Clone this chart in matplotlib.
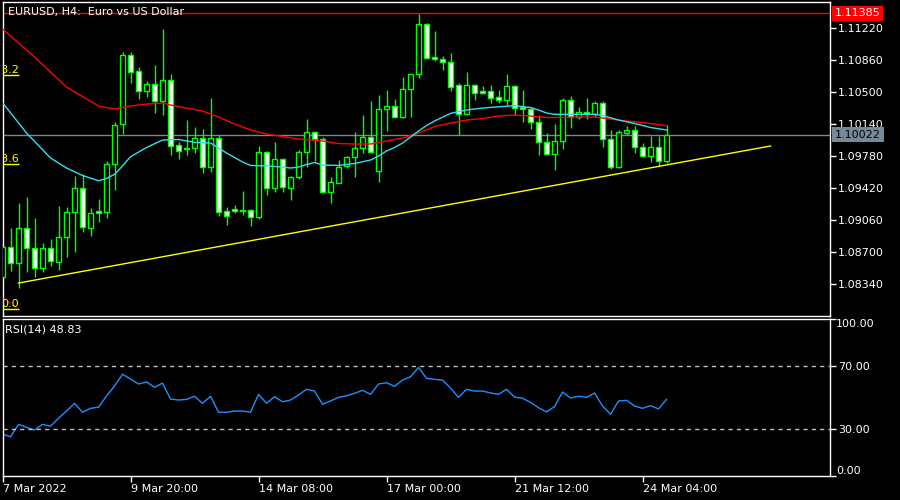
import numpy as np
import matplotlib.pyplot as plt
from matplotlib.transforms import blended_transform_factory

# EURUSD H4 candles, bar index 0..83
opens = [1.08419, 1.08756, 1.08576, 1.08970, 1.08745, 1.08520, 1.08745, 1.08588, 1.08869, 1.09150,
         1.09420, 1.08970, 1.09161, 1.09150, 1.09690, 1.10140, 1.10916, 1.10736, 1.10511, 1.10590,
         1.10399, 1.10635, 1.09904, 1.09859, 1.09870, 1.09983, 1.09656, 1.09983, 1.09161, 1.09184,
         1.09161, 1.09173, 1.09094, 1.09825, 1.09420, 1.09746, 1.09420, 1.09544, 1.09825, 1.10050,
         1.09971, 1.09375, 1.09476, 1.09668, 1.09769, 1.09870, 1.09994, 1.09611, 1.10309, 1.10343,
         1.10219, 1.10534, 1.10703, 1.11265, 1.10894, 1.10871, 1.10838, 1.10579, 1.10253, 1.10579,
         1.10511, 1.10511, 1.10444, 1.10410, 1.10568, 1.10331, 1.10309, 1.10163, 1.09938, 1.09803,
         1.09949, 1.10410, 1.10219, 1.10275, 1.10253, 1.10376, 1.09971, 1.09656, 1.10039, 1.10073,
         1.09881, 1.09780, 1.09881, 1.09724]
highs = [1.08779, 1.08970, 1.09251, 1.09319, 1.09083, 1.08801, 1.08846, 1.09218, 1.09206, 1.09555,
         1.09578, 1.09195, 1.09296, 1.09724, 1.10163, 1.10950, 1.10950, 1.10781, 1.10624, 1.10804,
         1.11209, 1.10703, 1.09938, 1.10185, 1.10106, 1.10084, 1.10433, 1.10016, 1.09206, 1.09229,
         1.09386, 1.09184, 1.09893, 1.09836, 1.09938, 1.09758, 1.09555, 1.09848, 1.10196, 1.10061,
         1.09994, 1.09544, 1.09735, 1.09780, 1.10050, 1.10241, 1.10399, 1.10466, 1.10523, 1.10421,
         1.10669, 1.10703, 1.11378, 1.11276, 1.11186, 1.10905, 1.10939, 1.10601, 1.10725, 1.10590,
         1.10568, 1.10579, 1.10523, 1.10703, 1.10579, 1.10523, 1.10331, 1.10241, 1.10039, 1.10140,
         1.10433, 1.10455, 1.10331, 1.10433, 1.10399, 1.10399, 1.10073, 1.10073, 1.10118, 1.10118,
         1.09926, 1.10005, 1.10005, 1.10129]
lows = [1.08396, 1.08486, 1.08295, 1.08475, 1.08419, 1.08475, 1.08543, 1.08498, 1.08644, 1.08700,
        1.08925, 1.08880, 1.09038, 1.09083, 1.09398, 1.10028, 1.10601, 1.10421, 1.10444, 1.10264,
        1.10241, 1.09791, 1.09746, 1.09791, 1.09814, 1.09589, 1.09600, 1.09105, 1.09004, 1.09139,
        1.09116, 1.08993, 1.09071, 1.09341, 1.09375, 1.09375, 1.09285, 1.09521, 1.09656, 1.09724,
        1.09364, 1.09251, 1.09476, 1.09645, 1.09544, 1.09814, 1.09814, 1.09488, 1.10061, 1.10208,
        1.10208, 1.10219, 1.10658, 1.10871, 1.10849, 1.10748, 1.10511, 1.10016, 1.10241, 1.10410,
        1.10478, 1.10376, 1.10376, 1.10354, 1.10241, 1.10163, 1.10084, 1.09791, 1.09791, 1.09623,
        1.09859, 1.10095, 1.10196, 1.10196, 1.10219, 1.09881, 1.09634, 1.09645, 1.10016, 1.09814,
        1.09769, 1.09713, 1.09668, 1.09701]
closes = [1.08756, 1.08576, 1.08970, 1.08745, 1.08520, 1.08745, 1.08599, 1.08869, 1.09150, 1.09420,
          1.08981, 1.09139, 1.09139, 1.09690, 1.10129, 1.10916, 1.10725, 1.10511, 1.10590, 1.10399,
          1.10635, 1.09893, 1.09836, 1.09870, 1.09983, 1.09656, 1.09983, 1.09150, 1.09105, 1.09161,
          1.09173, 1.09094, 1.09825, 1.09420, 1.09746, 1.09431, 1.09544, 1.09825, 1.10050, 1.09971,
          1.09375, 1.09488, 1.09656, 1.09769, 1.09870, 1.09994, 1.09825, 1.10309, 1.10343, 1.10219,
          1.10534, 1.10703, 1.11265, 1.10883, 1.10871, 1.10838, 1.10556, 1.10253, 1.10579, 1.10489,
          1.10489, 1.10433, 1.10410, 1.10568, 1.10320, 1.10309, 1.10163, 1.09938, 1.09803, 1.09949,
          1.10410, 1.10219, 1.10275, 1.10253, 1.10376, 1.09971, 1.09656, 1.10050, 1.10073, 1.09881,
          1.09780, 1.09881, 1.09724, 1.10022]

# moving averages (read at some bars)
red_idx = [0, 4, 8, 12, 14, 16, 18, 20, 21, 23, 25, 27, 29, 31, 33, 35, 37, 40, 42, 44,
           46, 48, 50, 52, 54, 56, 58, 60, 62, 64, 66, 68, 70, 72, 74, 76, 78, 80, 83]
red_ma = [1.11209, 1.10894, 1.10556, 1.10343, 1.10309, 1.10343, 1.10365, 1.10376, 1.10354, 1.10320,
          1.10286, 1.10219, 1.10140, 1.10073, 1.10028, 1.10000, 1.09971, 1.09949, 1.09921, 1.09915,
          1.09915, 1.09949, 1.09983, 1.10039, 1.10112, 1.10151, 1.10185, 1.10202, 1.10230, 1.10241,
          1.10230, 1.10213, 1.10215, 1.10219, 1.10219, 1.10196, 1.10174, 1.10157, 1.10121]
cyan_idx = [0, 3, 6, 8, 10, 12, 13, 14, 15, 16, 18, 20, 22, 24, 26, 27, 28, 30, 31, 33,
            35, 36, 37, 38, 39, 40, 42, 44, 46, 47, 48, 49, 50, 51, 52, 53, 54, 56, 58, 60,
            62, 64, 66, 67, 68, 69, 72, 74, 75, 77, 79, 81, 83]
cyan_ma = [1.10380, 1.10039, 1.09758, 1.09645, 1.09561, 1.09502, 1.09527, 1.09574, 1.09668, 1.09772,
           1.09876, 1.09960, 1.09966, 1.09934, 1.09926, 1.09870, 1.09814, 1.09713, 1.09674, 1.09668,
           1.09656, 1.09645, 1.09656, 1.09684, 1.09707, 1.09679, 1.09674, 1.09696, 1.09735, 1.09780,
           1.09836, 1.09876, 1.09926, 1.09994, 1.10061, 1.10123, 1.10174, 1.10260, 1.10298, 1.10320,
           1.10334, 1.10346, 1.10326, 1.10298, 1.10264, 1.10249, 1.10249, 1.10249, 1.10236, 1.10185,
           1.10146, 1.10101, 1.10073]

rsi = [26.6, 25.0, 32.9, 31.0, 29.3, 32.9, 31.7, 36.8, 41.4, 46.3,
       40.6, 43.1, 43.8, 51.0, 57.3, 64.8, 61.8, 58.6, 59.9, 56.5,
       59.2, 49.0, 48.4, 48.8, 50.8, 46.3, 50.8, 40.6, 40.6, 41.4,
       41.4, 40.6, 52.0, 46.3, 50.5, 47.3, 48.4, 51.6, 55.2, 54.1,
       45.7, 47.8, 50.1, 51.1, 52.7, 54.6, 52.0, 58.6, 59.4, 57.1,
       61.1, 63.2, 69.2, 62.2, 61.6, 61.1, 56.0, 50.1, 55.2, 54.1,
       54.1, 52.9, 52.0, 55.2, 50.3, 49.5, 46.9, 43.5, 40.8, 44.2,
       53.5, 49.7, 50.8, 50.1, 52.9, 44.6, 39.3, 47.8, 48.2, 44.6,
       43.1, 44.8, 42.7, 48.83]

ask = 1.11385
bid = 1.10022
trend_idx = [2, 96]
trend_price = [1.08351, 1.09893]
fib_levels = ['0.0', '23.6', '38.2']
fib_prices = [1.08059, 1.09690, 1.10691]
fib_base_idx = [-106, 2]
fib_base_price = [1.14970, 1.08059]

price_ticks = [1.08340, 1.08700, 1.09060, 1.09420, 1.09780, 1.10140, 1.10500, 1.10860, 1.11220]
time_idx = [0, 16, 32, 48, 64, 80]
time_labels = ['7 Mar 2022', '9 Mar 20:00', '14 Mar 08:00', '17 Mar 00:00', '21 Mar 12:00', '24 Mar 04:00']

GREEN = '#00ff00'
fig = plt.figure(figsize=(9, 5), dpi=100, facecolor='black')
ax = fig.add_axes([0.0028, 0.368, 0.9194, 0.628])
rax = fig.add_axes([0.0028, 0.048, 0.9194, 0.314])

for a in (ax, rax):
    a.set_facecolor('black')
    for s in a.spines.values():
        s.set_color('white')
        s.set_linewidth(1)
    a.yaxis.tick_right()
    a.tick_params(axis='y', colors='white', labelsize=8, length=4, width=1, pad=2)
    a.set_xlim(0, 103.43)

# candles
x = np.arange(len(opens))
o = np.array(opens); c = np.array(closes)
ax.vlines(x, lows, highs, color=GREEN, lw=1, zorder=2)
fill = np.where(c >= o, 'black', 'white')
ax.bar(x, np.abs(c - o), bottom=np.minimum(o, c), width=0.6, color=fill,
       edgecolor=GREEN, linewidth=1, zorder=3)

ax.plot(red_idx, red_ma, color='#ff0000', lw=1, zorder=4)
ax.plot(cyan_idx, cyan_ma, color='#30e0f0', lw=1, zorder=4)
ax.plot(trend_idx, trend_price, color='#ffff00', lw=1, zorder=4)
ax.axhline(ask, color='#ff0000', lw=1, zorder=1)
ax.axhline(bid, color='#778899', lw=1, zorder=1)

# fibonacci remains at the left edge (labels cut by the frame, as in the terminal)
ax.hlines(fib_prices, -10, 2.1, color='#ffff00', lw=1, zorder=4)
for lv, p in zip(fib_levels, fib_prices):
    ax.text(2.05, p, lv, ha='right', va='bottom', color='#ffff00', fontsize=8, clip_on=True, zorder=5)
ax.plot(fib_base_idx, fib_base_price, color='#ff0000', lw=1, ls=(0, (2, 2)), zorder=4)

ax.set_ylim(1.07980, 1.11513)
ax.set_yticks(price_ticks)
ax.set_yticklabels(['%.5f' % v for v in price_ticks])
ax.set_xticks([])

tr = blended_transform_factory(ax.transAxes, ax.transData)
ax.text(1.006, ask, '%.5f' % ask, transform=tr, ha='left', va='center', color='white', fontsize=8,
        bbox=dict(boxstyle='square,pad=0.25', fc='#ff0000', ec='none'), zorder=6, clip_on=False)
ax.text(1.006, bid, '%.5f' % bid, transform=tr, ha='left', va='center', color='black', fontsize=8,
        bbox=dict(boxstyle='square,pad=0.25', fc='#778899', ec='none'), zorder=6, clip_on=False)
ax.text(0.0066, 0.968, 'EURUSD, H4:  Euro vs US Dollar', transform=ax.transAxes,
        ha='left', va='center', color='white', fontsize=8, zorder=6)

# RSI pane
rax.plot(x, rsi, color='#1e90ff', lw=1)
rax.axhline(70, color='#c0c0c0', lw=1, ls=(0, (3, 3)))
rax.axhline(30, color='#c0c0c0', lw=1, ls=(0, (3, 3)))
rax.set_ylim(0, 100)
rax.set_yticks([0, 30, 70, 100])
rax.set_yticklabels(['', '30.00', '70.00', ''])
rtr = blended_transform_factory(rax.transAxes, rax.transData)
rax.text(1.0073, 100, '100.00', transform=rtr, ha='left', va='top', color='white', fontsize=8)
rax.text(1.0073, 0, '0.00', transform=rtr, ha='left', va='bottom', color='white', fontsize=8)
rax.text(0.003, 0.936, 'RSI(14) %.2f' % rsi[-1], transform=rax.transAxes,
         ha='left', va='center', color='white', fontsize=8)

rax.set_xticks(time_idx)
rax.set_xticklabels(time_labels)
rax.tick_params(axis='x', colors='white', labelsize=8, length=4, width=1, pad=2)
for lab in rax.get_xticklabels():
    lab.set_ha('left')

fig.savefig('out.png', dpi=100, facecolor='black')
